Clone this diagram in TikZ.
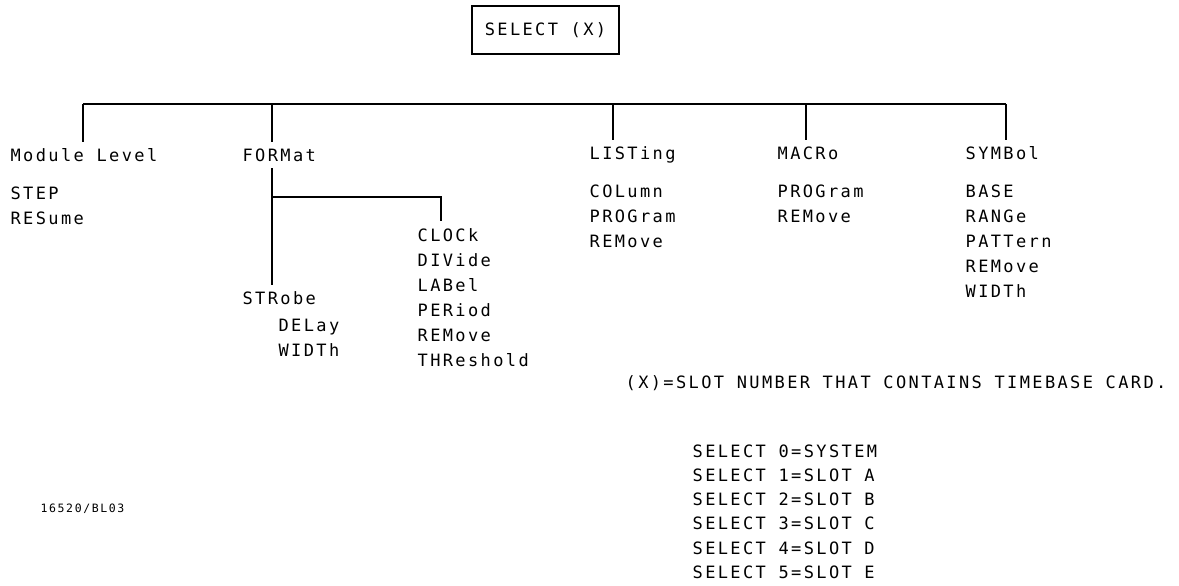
\documentclass[tikz,border=0pt]{standalone}
\usepackage{fontspec}
\newfontfamily\plotter[LetterSpace=14]{DejaVu Sans Mono}
\usetikzlibrary{positioning}

\begin{document}
\begin{tikzpicture}[
  x=1pt, y=-1pt,
  line width=1.3pt,
  head/.style={anchor=west, inner sep=0pt, outer ysep=7pt, text height=12pt, text depth=0pt, font=\plotter\fontsize{17}{25}\selectfont},
  items/.style={inner sep=0pt, align=left, font=\plotter\fontsize{17}{25}\selectfont},
  selbox/.style={draw, minimum width=147pt, minimum height=48pt, inner sep=0pt, font=\plotter\fontsize{17}{25}\selectfont},
  tag/.style={anchor=west, inner sep=0pt, font=\plotter\fontsize{11.5}{14}\selectfont}
]
\useasboundingbox (0,0) rectangle (1179,586);

\node[selbox] (sel) at (545.5,30) {SELECT (X)};

% top level commands
\node[head] (mod) at (10,155) {Module Level};
\node[head] (fmt) at (242,155) {FORMat};
\node[head] (lst) at (589,153) {LISTing};
\node[head] (mac) at (777,153) {MACRo};
\node[head] (sym) at (965,153) {SYMBol};

\node[items, below=18pt of mod.south west, anchor=north west] (modsub) {STEP\\RESume};
\node[items, below=18pt of lst.south west, anchor=north west] (lstsub) {COLumn\\PROGram\\REMove};
\node[items, below=18pt of mac.south west, anchor=north west] (macsub) {PROGram\\REMove};
\node[items, below=18pt of sym.south west, anchor=north west] (symsub) {BASE\\RANGe\\PATTern\\REMove\\WIDTh};

% FORMat branch
\node[head] (strb) at (242,298) {STRobe};
\node[items, anchor=north west] (strbsub) at (278,318) {DELay\\WIDTh};
\node[items, anchor=north west] (clk) at (417,228) {CLOCk\\DIVide\\LABel\\PERiod\\REMove\\THReshold};

\coordinate (jmod) at (83,104);
\coordinate (jfmt) at (272,104);
\coordinate (jlst) at (613,104);
\coordinate (jmac) at (806,104);
\coordinate (jsym) at (1006,104);
\coordinate (jbr) at (272,197);
\coordinate (kclk) at (441,197);

\draw (jmod) -- (jsym);
\draw (jmod) -- (jmod |- mod.north);
\draw (jfmt) -- (jfmt |- fmt.north);
\draw (jlst) -- (jlst |- lst.north);
\draw (jmac) -- (jmac |- mac.north);
\draw (jsym) -- (jsym |- sym.north);
\draw (jfmt |- fmt.south) -- (jfmt |- strb.north);
\draw[shorten >=7pt] (jbr) -- (kclk) -- (kclk |- clk.north);

% slot note
\node[head] (note) at (625,382) {(X)=SLOT NUMBER THAT CONTAINS TIMEBASE CARD.};
\node[items, anchor=north west, font=\plotter\fontsize{17}{24.2}\selectfont] (slots) at (692,444) {SELECT 0=SYSTEM\\SELECT 1=SLOT A\\SELECT 2=SLOT B\\SELECT 3=SLOT C\\SELECT 4=SLOT D\\SELECT 5=SLOT E};

\node[tag] (code) at (40,509) {16520/BL03};
\end{tikzpicture}
\end{document}
